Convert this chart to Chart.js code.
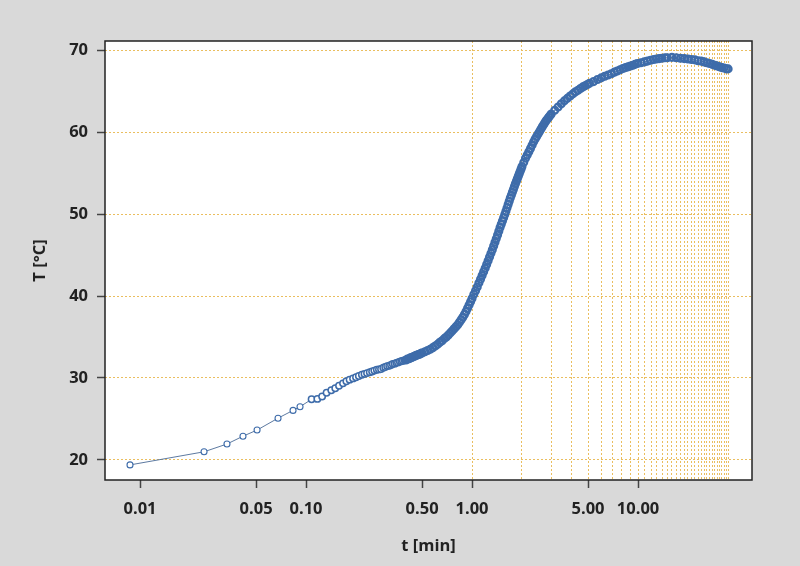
<!DOCTYPE html>
<html>
<head>
<meta charset="utf-8">
<style>
  html, body { margin: 0; padding: 0; background: #d9d9d9; }
  canvas { display: block; }
</style>
<script src="https://cdn.jsdelivr.net/npm/chart.js@4.4.1/dist/chart.umd.min.js"></script>
</head>
<body>
<canvas id="chart" width="800" height="566"></canvas>
<script>
// time in minutes
const times = [
  0.0087, 0.0243, 0.0334, 0.0417, 0.0507, 0.0678, 0.0835, 0.092,
  0.108, 0.117, 0.125, 0.133, 0.142, 0.15, 0.158, 0.167, 0.175, 0.183, 0.192, 0.2,
  0.208, 0.217, 0.225, 0.233, 0.242, 0.25, 0.258, 0.267, 0.275, 0.283, 0.292, 0.3,
  0.308, 0.317, 0.325, 0.333, 0.342, 0.35, 0.358, 0.367, 0.375, 0.383, 0.392, 0.4,
  0.408, 0.417, 0.425, 0.433, 0.442, 0.45, 0.458, 0.467, 0.475, 0.483, 0.492, 0.5,
  0.52, 0.54, 0.56, 0.58, 0.6, 0.62, 0.64, 0.66, 0.68, 0.7, 0.72, 0.74, 0.76, 0.78, 0.8,
  0.82, 0.84, 0.86, 0.88, 0.9, 0.92, 0.94, 0.96, 0.98, 1.0,
  1.025, 1.05, 1.075, 1.1, 1.125, 1.15, 1.175, 1.2, 1.225, 1.25, 1.275, 1.3, 1.325, 1.35, 1.375, 1.4,
  1.425, 1.45, 1.475, 1.5, 1.525, 1.55, 1.575, 1.6, 1.625, 1.65, 1.675, 1.7, 1.725, 1.75, 1.775, 1.8,
  1.825, 1.85, 1.875, 1.9, 1.925, 1.95, 1.975, 2.0,
  2.05, 2.1, 2.15, 2.2, 2.25, 2.3, 2.35, 2.4, 2.45, 2.5, 2.55, 2.6, 2.65, 2.7, 2.75, 2.8, 2.85, 2.9, 2.95, 3.0,
  3.15, 3.3, 3.45, 3.6, 3.75, 3.9, 4.05, 4.2, 4.35, 4.5, 4.65, 4.8, 4.95,
  5.1, 5.4, 5.7, 6.0, 6.3, 6.6, 6.9, 7.2, 7.5, 7.8, 8.1, 8.4, 8.7, 9.0, 9.3, 9.6, 9.9,
  10.4, 10.9, 11.4, 11.9, 12.4, 12.9, 13.4, 13.9, 14.5, 15,
  16, 17, 18, 19, 20, 21, 22, 23, 24, 25, 26, 27, 28, 29, 30, 31, 32, 33, 34, 34.9
];

// temperature in °C
const temps = [
  19.4, 21.0, 21.95, 22.9, 23.65, 25.1, 26.05, 26.5,
  27.4, 27.45, 27.75, 28.2, 28.5, 28.75, 29.05, 29.35, 29.6, 29.8, 29.95, 30.1,
  30.25, 30.4, 30.5, 30.6, 30.7, 30.8, 30.9, 31.0, 31.05, 31.1, 31.25, 31.35,
  31.45, 31.5, 31.6, 31.7, 31.75, 31.85, 31.9, 32.0, 32.05, 32.1, 32.15, 32.2,
  32.3, 32.35, 32.45, 32.5, 32.6, 32.65, 32.75, 32.8, 32.85, 32.9, 33.0, 33.05,
  33.2, 33.35, 33.5, 33.7, 33.9, 34.1, 34.35, 34.55, 34.8, 35.0, 35.25, 35.5, 35.75, 36.0, 36.25,
  36.5, 36.8, 37.1, 37.4, 37.75, 38.1, 38.5, 38.9, 39.3, 39.7,
  40.2, 40.65, 41.1, 41.6, 42.05, 42.5, 42.95, 43.4, 43.85, 44.3, 44.75, 45.2, 45.65, 46.1, 46.55, 47.0,
  47.45, 47.9, 48.35, 48.75, 49.15, 49.55, 49.95, 50.35, 50.75, 51.15, 51.55, 51.95, 52.3, 52.65, 53.0, 53.35,
  53.7, 54.0, 54.3, 54.6, 54.9, 55.2, 55.5, 55.8,
  56.3, 56.8, 57.2, 57.6, 58.0, 58.4, 58.8, 59.15, 59.45, 59.75, 60.05, 60.35, 60.65, 60.9, 61.15, 61.4, 61.6, 61.8, 62.0, 62.2,
  62.65, 63.05, 63.45, 63.8, 64.1, 64.4, 64.65, 64.9, 65.1, 65.3, 65.5, 65.65, 65.8,
  65.95, 66.15, 66.4, 66.6, 66.8, 66.95, 67.1, 67.3, 67.45, 67.6, 67.75, 67.85, 67.95, 68.05, 68.15, 68.25, 68.35,
  68.45, 68.55, 68.65, 68.75, 68.85, 68.9, 68.95, 69.0, 69.05, 69.05,
  69.1, 69.05, 69.0, 68.95, 68.9, 68.85, 68.8, 68.7, 68.65, 68.55, 68.45, 68.35, 68.25, 68.15, 68.05, 67.95, 67.85, 67.8, 67.7, 67.7
];

const xTickLabels = [0.01, 0.05, 0.1, 0.5, 1, 5, 10];
const gridMinutes = [1, 2, 3, 4, 5, 6, 7, 8, 9, 10, 11, 12, 13, 14, 15, 16, 17, 18, 19, 20,
  21, 22, 23, 24, 25, 26, 27, 28, 29, 30, 31, 32, 33, 34, 35];
const yTicks = [20, 30, 40, 50, 60, 70];

const GRID = "rgb(234,190,95)";
const INK = "#222";
const font = { family: "'Open Sans', sans-serif", size: 16.5, weight: "bold" };

// grey page, white plot box with a dark frame
const plotFrame = {
  id: "plotFrame",
  beforeDraw(chart) {
    const { ctx, chartArea: a } = chart;
    ctx.save();
    ctx.fillStyle = "#d9d9d9";
    ctx.fillRect(0, 0, chart.width, chart.height);
    ctx.fillStyle = "#fff";
    ctx.fillRect(a.left, a.top, a.right - a.left, a.bottom - a.top);
    ctx.restore();
  },
  afterDraw(chart) {
    const { ctx, chartArea: a } = chart;
    ctx.save();
    ctx.strokeStyle = "#222";
    ctx.lineWidth = 1.5;
    ctx.strokeRect(a.left, a.top, a.right - a.left, a.bottom - a.top);
    ctx.restore();
  }
};

// point look depends on how crowded the samples are
const tOf = c => (c.raw ? c.raw.x : 1);

const ctx = document.getElementById("chart").getContext("2d");

new Chart(ctx, {
  type: "scatter",
  data: {
    datasets: [{
      data: times.map((t, i) => ({ x: t, y: temps[i] })),
      showLine: true,
      borderColor: "#4a6a95",
      borderWidth: 0.9,
      pointRadius: c => (tOf(c) < 0.1 ? 3 : tOf(c) < 0.4 ? 3.2 : 3.4),
      pointBorderWidth: c => (tOf(c) < 0.1 ? 1.1 : tOf(c) < 0.4 ? 1.5 : 2.3),
      pointBorderColor: "#3e6caa",
      pointBackgroundColor: c => (tOf(c) < 0.4 ? "#fff" : "rgba(255,255,255,0)")
    }]
  },
  options: {
    responsive: false,
    animation: false,
    layout: { padding: { top: 41, right: 48, left: 0, bottom: 0 } },
    scales: {
      x: {
        type: "logarithmic",
        min: 0.00615,
        max: 48.6,
        bounds: "data",
        afterBuildTicks: s => {
          s.ticks = [...new Set([...xTickLabels, ...gridMinutes])]
            .sort((a, b) => a - b)
            .map(v => ({ value: v }));
        },
        afterFit: s => { s.height = 86; },
        grid: {
          color: c => (c.tick && c.tick.value >= 1 ? GRID : "transparent"),
          tickColor: c => (c.tick && xTickLabels.includes(c.tick.value) ? "#444" : "transparent"),
          tickLength: 8,
          tickWidth: 1.5,
          lineWidth: 1
        },
        border: { display: false, dash: [2, 2] },
        ticks: {
          autoSkip: false,
          maxRotation: 0,
          minRotation: 0,
          padding: 11,
          color: INK,
          font,
          callback: v => (xTickLabels.includes(v) ? v.toFixed(2) : "")
        },
        title: { display: true, text: "t [min]", color: INK, font, padding: { top: 0, bottom: 10 } }
      },
      y: {
        min: 17.56,
        max: 71.1,
        afterBuildTicks: s => { s.ticks = yTicks.map(v => ({ value: v })); },
        afterFit: s => { s.width = 105; },
        grid: { color: GRID, tickColor: "#444", tickLength: 8, tickWidth: 1.5, lineWidth: 1 },
        border: { display: false, dash: [2, 2] },
        ticks: { padding: 9, color: INK, font },
        title: { display: true, text: "T [°C]", color: INK, font, padding: { top: 30, bottom: 0 } }
      }
    },
    plugins: {
      legend: { display: false },
      tooltip: { enabled: false }
    }
  },
  plugins: [plotFrame]
});
</script>
</body>
</html>
